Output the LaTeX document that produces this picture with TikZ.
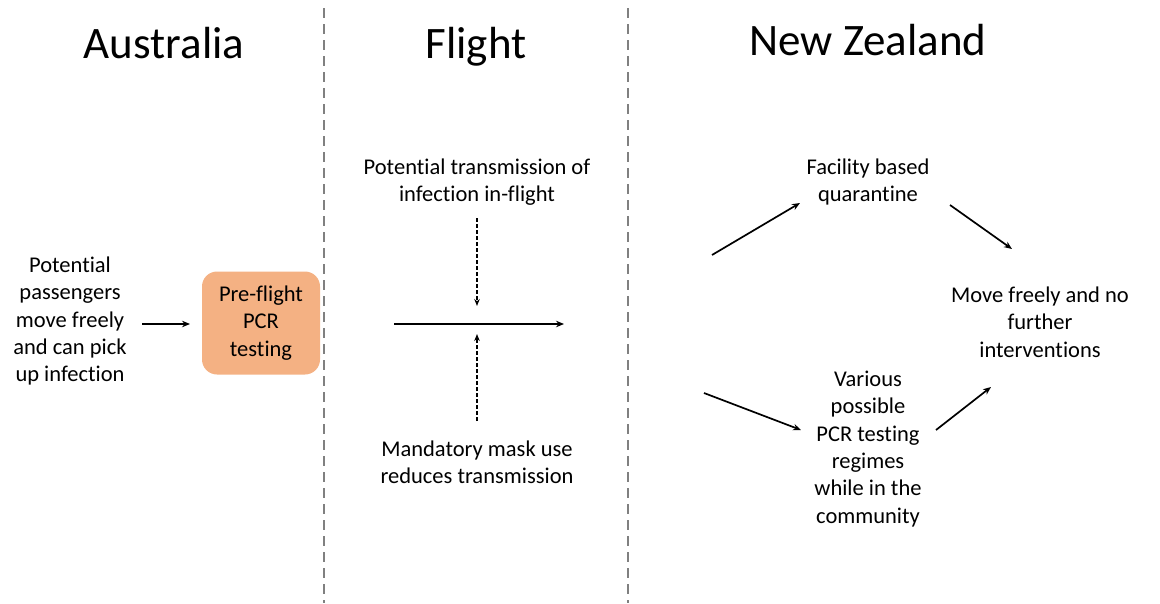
\documentclass[tikz,border=0pt]{standalone}
\usepackage{fontspec}
\setmainfont{Carlito}[Ligatures=NoCommon]
\usetikzlibrary{arrows.meta}
\begin{document}
\begin{tikzpicture}[x=1pt,y=-1pt,
  divider/.style={draw=black!50,line width=2.5pt,dash pattern=on 10pt off 6pt},
  title/.style={font=\fontsize{45}{50}\selectfont,anchor=base,inner sep=0pt},
  lbl/.style={font=\fontsize{22.5}{27.3}\selectfont,align=center,anchor=center,inner sep=1pt},
  arr/.style={line width=1.7pt,-{Stealth[length=8pt,width=6.5pt]}},
  darr/.style={line width=1.6pt,dash pattern=on 4pt off 2pt,-{Stealth[length=7pt,width=5.5pt]}},
  pbox/.style={rounded corners=15pt,minimum width=118pt,minimum height=103pt,align=center,font=\fontsize{22.5}{27.3}\selectfont}]
\useasboundingbox (0,0) rectangle (1160,603);
\definecolor{boxorange}{RGB}{244,177,131}
% dividers
\coordinate (d1t) at (324,8); \coordinate (d1b) at (324,603);
\coordinate (d2t) at (628,8); \coordinate (d2b) at (628,603);
\draw[divider] (d1t) -- (d1b);
\draw[divider] (d2t) -- (d2b);
% titles
\node[title] (tA) at (164,58) {Australia};
\node[title] (tF) at (476,58) {Flight};
\node[title] (tN) at (868,55) {New Zealand};
% Australia
\node[lbl] (pax) at (70,321) {Potential\\passengers\\move freely\\and can pick\\up infection};
\node[pbox,fill=boxorange] (pcr) at (261,323) {Pre-flight\\PCR\\testing};
\coordinate (a1s) at (142,324); \coordinate (a1e) at (190,324);
\draw[arr] (a1s) -- (a1e);
% Flight
\node[lbl] (trans) at (477,182) {Potential transmission of\\infection in-flight};
\node[lbl] (mask) at (477,462) {Mandatory mask use\\reduces transmission};
\coordinate (fs) at (394,324); \coordinate (fe) at (564,324);
\draw[arr] (fs) -- (fe);
\coordinate (dts) at (477,218); \coordinate (dte) at (477,306);
\draw[darr] (dts) -- (dte);
\coordinate (dbs) at (477,421); \coordinate (dbe) at (477,334);
\draw[darr] (dbs) -- (dbe);
% New Zealand
\node[lbl] (fac) at (868,182) {Facility based\\quarantine};
\node[lbl] (move) at (1040,322) {Move freely and no\\further\\interventions};
\node[lbl] (var) at (868,449) {Various\\possible\\PCR testing\\regimes\\while in the\\community};
\coordinate (n1s) at (712,255); \coordinate (n1e) at (800,203);
\draw[arr] (n1s) -- (n1e);
\coordinate (n2s) at (950,205); \coordinate (n2e) at (1012,249);
\draw[arr] (n2s) -- (n2e);
\coordinate (n3s) at (704,393); \coordinate (n3e) at (801,430);
\draw[arr] (n3s) -- (n3e);
\coordinate (n4s) at (936,430); \coordinate (n4e) at (991,387);
\draw[arr] (n4s) -- (n4e);
\end{tikzpicture}
\end{document}
